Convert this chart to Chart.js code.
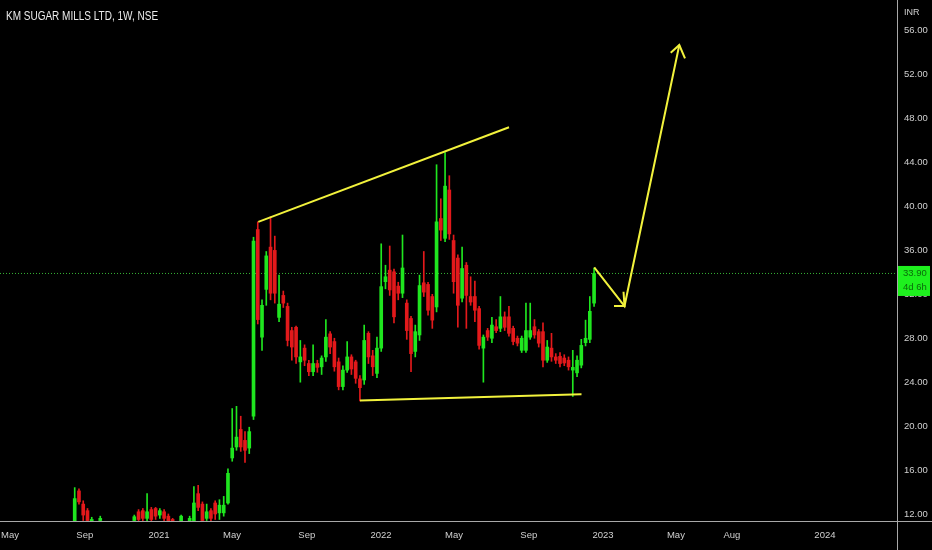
<!DOCTYPE html>
<html>
<head>
<meta charset="utf-8">
<script src="https://cdn.jsdelivr.net/npm/chart.js@4.4.1/dist/chart.umd.min.js"></script>
<style>
  html, body { margin: 0; padding: 0; background: #000; }
  canvas { display: block; }
</style>
</head>
<body>
<canvas id="chart" width="932" height="550"></canvas>
<script>
/* ============================================================
   KM SUGAR MILLS LTD — weekly candles (NSE)
   x axis unit: weeks since 1 Jan 2021
   ============================================================ */

const FIRST_WEEK = -19.8;          // first candle, mid Aug 2020
const LAST_PRICE = 33.90;

const opens = [
    10.8, 14.1, 12.9, 12.3, 11.3, 11.2, 11.4, 11.0, 10.9, 11.1, 10.8, 11.0, 10.9, 11.1,
    11.4, 12.2, 12.3, 11.6, 12.4, 12.5, 11.9, 12.2, 11.8, 11.5, 11.2, 11.3, 11.1, 11.3,
    11.0, 13.85, 12.9, 11.6, 12.3, 13.0, 12.1, 12.1, 13.0, 17.1, 18.1, 19.7, 18.7, 18.0,
    20.9, 37.9, 28.1, 32.45, 36.3, 36.0, 29.9, 31.9, 30.9, 28.7, 29.0, 25.85, 27.1, 25.7,
    24.95, 25.7, 25.4, 26.3, 28.4, 27.7, 25.85, 23.6, 25.1, 26.3, 25.85, 24.3, 24.2, 28.45,
    26.4, 24.8, 27.1, 33.15, 34.2, 34.05, 32.75, 32.1, 31.2, 29.8, 26.8, 28.3, 33.05, 32.9,
    31.8, 30.85, 38.9, 37.1, 41.5, 36.9, 35.3, 31.65, 34.65, 31.8, 31.8, 30.7, 27.1, 28.7,
    28.0, 29.05, 28.9, 29.95, 29.95, 28.9, 28.0, 26.9, 26.9, 28.1, 29.05, 28.6, 28.6, 26.0,
    27.1, 26.3, 26.35, 26.2, 26.0, 25.1, 24.85, 25.55, 27.6, 27.9, 31.2
];
const highs = [
    14.4, 14.3, 13.2, 12.5, 11.7, 11.3, 11.8, 11.2, 11.1, 11.3, 11.0, 11.2, 11.1, 11.3,
    11.9, 12.4, 12.5, 13.85, 12.6, 12.6, 12.5, 12.4, 12.0, 11.6, 11.3, 11.9, 11.3, 11.8,
    14.5, 14.6, 13.1, 12.9, 12.5, 13.2, 13.3, 13.6, 16.1, 21.6, 21.8, 20.9, 19.5, 19.9,
    37.2, 38.6, 31.5, 35.9, 39.06, 37.3, 33.75, 32.3, 31.2, 29.0, 29.1, 27.8, 27.4, 26.0,
    27.4, 26.0, 26.4, 29.7, 28.6, 28.0, 26.2, 25.5, 27.7, 26.5, 26.0, 24.6, 29.2, 28.6,
    26.9, 28.1, 36.6, 34.65, 36.4, 34.3, 33.1, 37.4, 31.5, 30.0, 29.2, 33.75, 35.9, 33.1,
    32.0, 43.8, 40.7, 44.9, 42.8, 37.4, 35.6, 36.3, 34.9, 33.6, 33.2, 30.9, 28.3, 28.9,
    29.9, 29.7, 31.8, 30.4, 30.9, 29.1, 28.2, 28.2, 31.2, 31.2, 29.7, 28.8, 29.4, 27.8,
    28.45, 26.6, 26.7, 26.5, 26.3, 26.9, 26.4, 27.9, 29.65, 31.8, 34.4
];
const lows = [
    10.5, 12.9, 11.4, 11.0, 11.1, 10.9, 11.2, 10.7, 10.6, 10.8, 10.5, 10.7, 10.6, 10.8,
    11.2, 11.3, 11.3, 11.4, 11.3, 11.5, 11.6, 11.4, 11.0, 11.1, 10.8, 11.2, 10.9, 11.1,
    10.9, 12.3, 11.2, 11.4, 11.3, 11.5, 11.5, 11.8, 12.9, 16.8, 17.8, 17.7, 16.7, 17.5,
    20.6, 29.3, 26.9, 31.0, 31.5, 31.2, 29.5, 30.8, 27.3, 26.0, 25.7, 24.0, 25.5, 24.6,
    24.6, 24.9, 24.7, 25.9, 26.6, 25.0, 23.3, 23.3, 24.9, 24.7, 23.9, 22.3, 23.8, 25.7,
    24.6, 24.4, 26.8, 32.5, 31.9, 29.4, 31.5, 31.7, 27.9, 24.95, 26.3, 27.8, 31.8, 30.1,
    28.9, 30.4, 36.9, 36.8, 37.0, 32.1, 29.0, 31.3, 28.9, 31.0, 29.5, 27.0, 24.0, 27.8,
    27.6, 28.5, 28.6, 28.7, 28.2, 27.4, 27.3, 26.7, 26.7, 27.9, 28.0, 27.2, 25.4, 25.8,
    25.9, 25.7, 25.4, 25.5, 25.1, 22.7, 24.5, 25.3, 27.3, 27.6, 30.9
];
const closes = [
    13.4, 13.1, 11.9, 11.4, 11.5, 11.1, 11.6, 10.9, 11.0, 10.9, 11.0, 10.8, 11.0, 11.2,
    11.75, 11.5, 11.6, 12.2, 11.5, 11.8, 12.3, 11.6, 11.3, 11.3, 11.0, 11.8, 11.2, 11.6,
    13.0, 12.6, 11.4, 12.2, 11.6, 12.0, 12.8, 12.8, 15.7, 18.0, 19.0, 18.1, 17.8, 19.5,
    36.85, 29.7, 31.0, 35.5, 32.1, 32.1, 31.1, 31.2, 27.8, 27.2, 26.3, 26.3, 26.0, 24.95,
    25.7, 25.35, 26.2, 28.1, 27.2, 25.4, 23.6, 25.1, 26.3, 25.2, 24.35, 23.5, 27.8, 26.3,
    25.4, 27.1, 32.7, 33.6, 32.4, 29.95, 32.1, 34.4, 28.7, 26.6, 28.6, 32.8, 32.2, 30.55,
    29.65, 38.6, 37.85, 41.85, 37.5, 33.15, 31.0, 34.35, 31.9, 31.3, 30.55, 27.35, 28.1, 28.1,
    29.2, 28.7, 29.95, 29.0, 28.45, 27.7, 27.55, 28.0, 28.7, 28.7, 28.3, 27.55, 26.0, 27.2,
    26.3, 26.0, 25.7, 25.75, 25.4, 25.35, 26.0, 27.35, 28.0, 30.45, 33.9
];

// right price axis
const priceTicks = [12, 16, 20, 24, 28, 32, 36, 40, 44, 48, 52, 56];

// bottom time axis (weeks since 1 Jan 2021)
const timeTickWeeks  = [-35.0, -17.43, 0, 17.14, 34.71, 52.14, 69.29, 86.86, 104.29, 121.43, 134.57, 156.43];
const timeTickLabels = ["May", "Sep", "2021", "May", "Sep", "2022", "May", "Sep", "2023", "May", "Aug", "2024"];

// drawn annotations: [week, price] pairs
const upperTrend = [[23.33, 38.60], [82.22, 47.21]];
const lowerTrend = [[47.22, 22.34], [99.25, 22.89]];
const projection = [[102.24, 34.45], [109.35, 30.93], [122.22, 54.70]];
const arrowHeadLow = [[106.88, 30.93], [109.35, 30.93], [109.12, 32.23]];
const arrowHeadTop = [[120.20, 54.00], [122.22, 54.70], [123.56, 53.49]];

/* ============================================================
   BUILD DATASETS
   ============================================================ */

const X_MIN = -37.35;
const X_MAX = 173.36;
const Y_MIN = 11.36;
const Y_MAX = 58.80;

const UP = "#1fe61f";
const DOWN = "#e3191b";
const DRAW = "#f2f23c";

const weeks = opens.map((_, i) => FIRST_WEEK + i);
const candleColors = opens.map((o, i) => closes[i] >= o ? UP : DOWN);

const toPoints = arr => arr.map(p => ({ x: p[0], y: p[1] }));

function drawLine(points, width) {
    return {
        type: "line",
        data: toPoints(points),
        borderColor: DRAW,
        borderWidth: width,
        pointRadius: 0,
        tension: 0,
        order: 0
    };
}

const datasets = [
    {
        type: "line",
        data: [{ x: X_MIN, y: LAST_PRICE }, { x: X_MAX, y: LAST_PRICE }],
        borderColor: "#36b336",
        borderWidth: 1,
        borderDash: [1, 2],
        pointRadius: 0,
        order: 3
    },
    {
        type: "bar",
        data: weeks.map((w, i) => ({ x: w, y: [lows[i], highs[i]] })),
        backgroundColor: candleColors,
        barThickness: 1,
        grouped: false,
        order: 2
    },
    {
        type: "bar",
        data: weeks.map((w, i) => ({ x: w, y: [opens[i], closes[i]] })),
        backgroundColor: candleColors,
        barThickness: 3,
        grouped: false,
        order: 1
    },
    drawLine(upperTrend, 2),
    drawLine(lowerTrend, 2),
    drawLine(projection, 2),
    drawLine(arrowHeadLow, 2),
    drawLine(arrowHeadTop, 2)
];

/* ============================================================
   DECORATION PLUGIN (title, separators, last price tag)
   ============================================================ */

const FONT = "'Liberation Sans', Arial, sans-serif";

const decorations = {
    id: "decorations",
    beforeDraw(chart) {
        const ctx = chart.ctx;
        ctx.save();
        ctx.fillStyle = "#000";
        ctx.fillRect(0, 0, chart.width, chart.height);
        ctx.restore();
    },
    afterDraw(chart) {
        const ctx = chart.ctx;
        const area = chart.chartArea;
        const yScale = chart.scales.y;
        ctx.save();

        // separators
        ctx.strokeStyle = "#a8a8a8";
        ctx.lineWidth = 1;
        ctx.beginPath();
        ctx.moveTo(Math.round(area.right) + 0.5, 0);
        ctx.lineTo(Math.round(area.right) + 0.5, chart.height);
        ctx.moveTo(0, Math.round(area.bottom) + 0.5);
        ctx.lineTo(chart.width, Math.round(area.bottom) + 0.5);
        ctx.stroke();

        ctx.textBaseline = "middle";
        ctx.textAlign = "left";

        // title (narrow face imitated by horizontal squeeze)
        ctx.save();
        ctx.translate(6, 17);
        ctx.scale(0.8, 1);
        ctx.fillStyle = "#ececec";
        ctx.font = "12.5px " + FONT;
        ctx.fillText("KM SUGAR MILLS LTD, 1W, NSE", 0, 0);
        ctx.restore();

        // currency
        ctx.font = "9px " + FONT;
        ctx.fillStyle = "#d0d0d0";
        ctx.fillText("INR", area.right + 7, 13);

        // last price tag
        const py = yScale.getPixelForValue(LAST_PRICE);
        ctx.fillStyle = "#1ef01e";
        ctx.fillRect(area.right + 1, py - 7.5, 32, 30);
        ctx.fillStyle = "#0b6a0b";
        ctx.font = "9.5px " + FONT;
        ctx.fillText(LAST_PRICE.toFixed(2), area.right + 6, py);
        ctx.fillText("4d 6h", area.right + 6, py + 14);

        ctx.restore();
    }
};

function zeroPadding(s) {
    s.paddingLeft = 0;
    s.paddingRight = 0;
    s.paddingTop = 0;
    s.paddingBottom = 0;
}

/* ============================================================
   CHART
   ============================================================ */

new Chart(document.getElementById("chart").getContext("2d"), {
    type: "bar",
    data: { datasets },
    options: {
        responsive: false,
        animation: false,
        events: [],
        layout: { padding: 0 },
        plugins: {
            legend: { display: false },
            tooltip: { enabled: false }
        },
        scales: {
            x: {
                type: "linear",
                position: "bottom",
                min: X_MIN,
                max: X_MAX,
                offset: false,
                grid: { display: false, drawTicks: false, offset: false },
                border: { display: false },
                afterBuildTicks: s => { s.ticks = timeTickWeeks.map(v => ({ value: v })); },
                afterFit: s => { s.height = 29; zeroPadding(s); },
                ticks: {
                    autoSkip: false,
                    maxRotation: 0,
                    padding: 9,
                    color: "#d0d0d0",
                    font: { family: FONT, size: 9.5 },
                    callback: (v, i) => timeTickLabels[i]
                }
            },
            y: {
                type: "linear",
                position: "right",
                min: Y_MIN,
                max: Y_MAX,
                grid: { display: false, drawTicks: false },
                border: { display: false },
                afterBuildTicks: s => { s.ticks = priceTicks.map(v => ({ value: v })); },
                afterFit: s => { s.width = 35; zeroPadding(s); },
                ticks: {
                    padding: 7,
                    color: "#d0d0d0",
                    font: { family: FONT, size: 9.5 },
                    callback: v => Number(v).toFixed(2)
                }
            }
        }
    },
    plugins: [decorations]
});
</script>
</body>
</html>
